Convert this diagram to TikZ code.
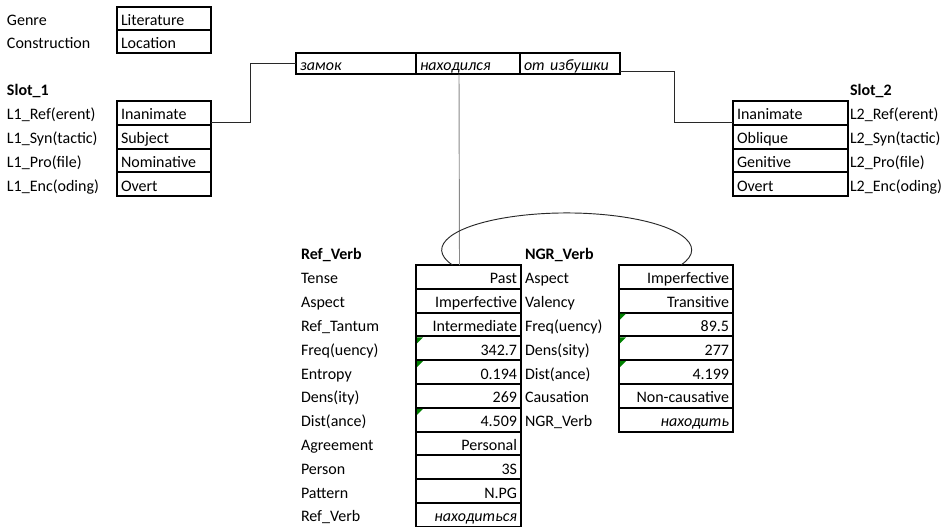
\documentclass[tikz,border=0pt]{standalone}
\usepackage{fontspec}
\setmainfont{Carlito}
\usetikzlibrary{calc}
\definecolor{tick}{RGB}{0,128,0}
\definecolor{wire}{RGB}{40,40,40}

\begin{document}
\begin{tikzpicture}[x=0.75pt,y=-0.75pt,
  font=\fontsize{12}{14}\selectfont,
  every node/.style={inner sep=0pt,outer sep=0pt,text height=10.5pt,text depth=0pt},
  lbl/.style={anchor=west},
  head/.style={anchor=west,font=\fontsize{12}{14}\selectfont\bfseries},
  cell/.style={draw,line width=1.5pt,anchor=north west,minimum height=17.85pt,inner xsep=3pt},
  lcell/.style={cell,text width=#1,align=left},
  rcell/.style={cell,text width=#1,align=right},
  word/.style={lcell=#1,minimum height=16pt,font=\fontsize{12}{14}\selectfont\itshape},
  link/.style={wire,line width=0.7pt}]
\useasboundingbox (0,0) rectangle (948,526);

\node[lcell=64.5pt,minimum height=17.25pt] (g1) at (117,7) {Literature};
\node[lcell=64.5pt,minimum height=17.25pt] (g2) at (g1.south west) {Location};
\node[lbl] at (7,18) {Genre};
\node[lbl] at (7,41) {Construction};

\node[word=84pt] (w1) at (296,53) {замок};
\node[word=72pt] (w2) at (w1.north east) {находился};
\node[word=69pt] (w3) at (w2.north east) {от избушки};

\node[head] at (7,88) {Slot\_1};
\foreach \k/\v [count=\i] in {L1\_Ref(erent)/Inanimate, L1\_Syn(tactic)/Subject,
    L1\_Pro(file)/Nominative, L1\_Enc(oding)/Overt} {
  \node[lcell=64.5pt] (sa\i) at (117,{101+23.8*(\i-1)}) {\v};
  \node[lbl] at (7,{112.9+23.8*(\i-1)}) {\k};
}

\node[head] at (850,88) {Slot\_2};
\foreach \k/\v [count=\i] in {L2\_Ref(erent)/Inanimate, L2\_Syn(tactic)/Oblique,
    L2\_Pro(file)/Genitive, L2\_Enc(oding)/Overt} {
  \node[lcell=80.25pt] (sb\i) at (733,{101+23.8*(\i-1)}) {\v};
  \node[lbl] at (850,{112.9+23.8*(\i-1)}) {\k};
}

\node[head] at (301,252.5) {Ref\_Verb};
\foreach \k/\v [count=\i] in {Tense/Past, Aspect/Imperfective, Ref\_Tantum/Intermediate,
    Freq(uency)/342.7, Entropy/0.194, Dens(ity)/269, Dist(ance)/4.509,
    Agreement/Personal, Person/3S, Pattern/N.PG, Ref\_Verb/\textit{находиться}} {
  \node[rcell=72.75pt] (rv\i) at (416,{265+23.8*(\i-1)}) {\v};
  \node[lbl] at (301,{276.9+23.8*(\i-1)}) {\k};
}

\node[head] at (525,252.5) {NGR\_Verb};
\foreach \k/\v [count=\i] in {Aspect/Imperfective, Valency/Transitive, Freq(uency)/89.5,
    Dens(sity)/277, Dist(ance)/4.199, Causation/Non-causative, NGR\_Verb/\textit{находить}} {
  \node[rcell=79.5pt] (nv\i) at (619,{265+23.8*(\i-1)}) {\v};
  \node[lbl] at (525,{276.9+23.8*(\i-1)}) {\k};
}

% green corner marks
\foreach \i in {4,5,7}
  \fill[tick] (rv\i.north west) ++(1,1) -- ++(6,0) -- ++(-6,6) -- cycle;
\foreach \i in {3,4,5}
  \fill[tick] (nv\i.north west) ++(1,1) -- ++(6,0) -- ++(-6,6) -- cycle;

% links
\draw[link] ($(sa1.south east)+(0,-2)$) -- ++(39,0) |- (w1.west);
\draw[link] ($(w3.south east)+(0,-3)$) -- ++(54,0) |- ($(sb1.south west)+(0,-2)$);
\draw[link,wire!55] ($(w2.south)+(-9,0)$) -- ($(rv1.north)+(-9,0)$);
\draw[link] ($(rv1.north)+(-16,0)$) arc[start angle=156,end angle=384,x radius=125,y radius=37];
\end{tikzpicture}
\end{document}
